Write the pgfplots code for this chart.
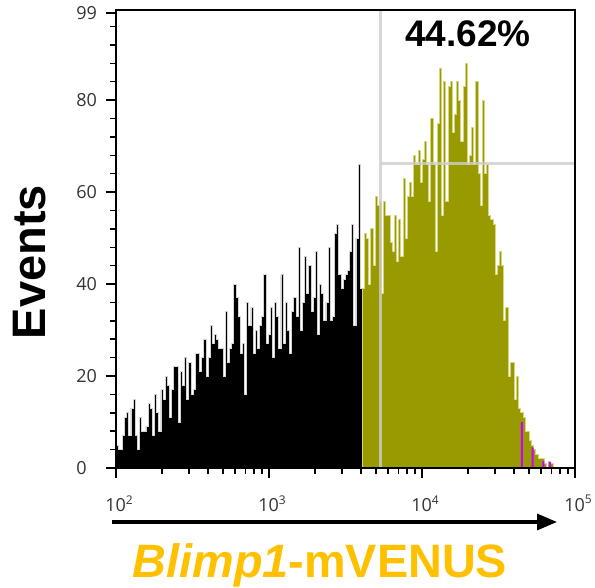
\documentclass[border=0pt]{standalone}
\usepackage{fontspec}
\setmainfont{Open Sans}
\newfontfamily\arial{Liberation Sans}
\usepackage{pgfplots}
\pgfplotsset{compat=1.18}
\usepackage{pgfplotstable}
\usetikzlibrary{arrows.meta}

\definecolor{olivebar}{RGB}{153,153,0}
\definecolor{oliveedge}{RGB}{214,214,130}
\definecolor{blackedge}{RGB}{210,210,210}
\definecolor{gatecol}{RGB}{205,205,205}
\definecolor{venus}{RGB}{255,192,0}
\definecolor{mag}{RGB}{204,0,255}

% counts per bin, bins of 0.014 decade starting at 10^2 (black, below the gate)
\pgfplotstableread[row sep=\\]{
n \\
5 \\ 4 \\ 4 \\ 7 \\ 11 \\ 12 \\ 7 \\ 13 \\ 15 \\ 7 \\ 4 \\ 11 \\ 8 \\ 8 \\ 9 \\ 14 \\ 13 \\ 7 \\ 16 \\ 12 \\
8 \\ 17 \\ 15 \\ 20 \\ 18 \\ 11 \\ 17 \\ 22 \\
22 \\ 10 \\ 21 \\ 18 \\ 24 \\ 15 \\ 23 \\ 16 \\ 17 \\ 25 \\ 25 \\ 21 \\ 24 \\ 28 \\ 20 \\ 24 \\ 31 \\ 27 \\ 29 \\ 28 \\
26 \\ 26 \\ 20 \\ 34 \\ 23 \\ 26 \\ 27 \\ 40 \\ 37 \\
33 \\ 25 \\ 27 \\ 16 \\ 36 \\ 31 \\ 35 \\ 25 \\ 30 \\ 26 \\ 31 \\ 33 \\ 42 \\ 27 \\ 29 \\ 35 \\ 24 \\ 36 \\ 33 \\ 26 \\
42 \\ 27 \\ 36 \\ 30 \\ 25 \\ 34 \\ 37 \\ 33 \\ 48 \\
30 \\ 36 \\ 46 \\ 38 \\ 44 \\ 34 \\ 37 \\ 47 \\ 29 \\ 40 \\ 38 \\ 32 \\ 36 \\ 48 \\ 32 \\ 33 \\ 51 \\ 53 \\ 42 \\ 39 \\
41 \\ 42 \\ 43 \\ 47 \\ 53 \\ 31 \\ 50 \\ 66 \\ 39 \\
39 \\
}\blackdata

% olive part, starting at 10^3.61
\pgfplotstableread[row sep=\\]{
n \\
39 \\ 51 \\ 50 \\ 40 \\ 52 \\ 44 \\ 59 \\ 57 \\ 58 \\ 38 \\ 58 \\ 55 \\ 55 \\ 49 \\ 47 \\ 55 \\ 45 \\ 54 \\ 46 \\ 63 \\
50 \\ 59 \\ 62 \\ 59 \\ 68 \\ 66 \\ 69 \\ 62 \\ 67 \\
71 \\ 66 \\ 58 \\ 76 \\ 66 \\ 47 \\ 75 \\ 87 \\ 55 \\ 84 \\ 58 \\ 83 \\ 84 \\ 73 \\ 77 \\ 84 \\ 80 \\ 71 \\ 83 \\ 88 \\
66 \\ 68 \\ 74 \\ 66 \\ 84 \\ 64 \\ 57 \\ 80 \\ 64 \\
66 \\ 55 \\ 54 \\ 53 \\ 42 \\ 44 \\ 47 \\ 44 \\ 32 \\ 35 \\ 20 \\ 23 \\ 23 \\ 15 \\ 20 \\ 13 \\ 12 \\ 11 \\ 8 \\ 8 \\
6 \\ 5 \\ 4 \\ 3 \\ 2 \\ 2 \\ 2 \\ 1 \\ 0 \\ 1.5 \\ 1 \\
1 \\
}\olivedata

\begin{document}
\begin{tikzpicture}
\path[use as bounding box] (-58pt,-60pt) rectangle (239.5pt,234pt);
\begin{axis}[
  scale only axis, width=229.5pt, height=229pt,
  xmin=2, xmax=5, ymin=0, ymax=99.6,
  axis on top,
  axis line style={line width=1pt},
  xtick={2,3,4,5},
  xticklabels={10\textsuperscript{2},10\textsuperscript{3},10\textsuperscript{4},10\textsuperscript{5}},
  minor xtick={2.301,2.477,2.602,2.699,2.778,2.845,2.903,2.954,
               3.301,3.477,3.602,3.699,3.778,3.845,3.903,3.954,
               4.301,4.477,4.602,4.699,4.778,4.845,4.903,4.954},
  ytick={0,20,40,60,80,99},
  yticklabels={0,20,40,60,80,99},
  minor ytick={4,8,12,16,24,28,32,36,44,48,52,56,64,68,72,76,84,88,92,96},
  tick align=outside, xtick pos=bottom, ytick pos=left,
  major tick length=5pt, minor tick length=3pt,
  every tick/.style={black, line width=0.75pt},
  tick label style={font=\fontsize{9}{10}\selectfont, text=black!80, inner sep=0pt},
  xticklabel style={anchor=north, xshift=1.75pt, yshift=-8.5pt},
  yticklabel style={anchor=west, xshift=-15pt},
]
\addplot[const plot, mark=none, fill=black, draw=blackedge, line width=0.4pt]
  table[x expr=2+0.014*\coordindex, y=n] {\blackdata} \closedcycle;
\addplot[const plot, mark=none, fill=olivebar, draw=oliveedge, line width=0.4pt]
  table[x expr=3.61+0.014*\coordindex, y=n] {\olivedata} \closedcycle;
% magenta events in the tail
\addplot[mark=none, fill=mag, draw=none] coordinates {(4.646,0)(4.646,10)(4.660,10)(4.660,0)} \closedcycle;
\addplot[mark=none, fill=mag, draw=none] coordinates {(4.716,0)(4.716,4.5)(4.730,4.5)(4.730,0)} \closedcycle;
\addplot[mark=none, fill=mag, draw=none] coordinates {(4.786,0)(4.786,1.5)(4.800,1.5)(4.800,0)} \closedcycle;
\addplot[mark=none, fill=mag, draw=none] coordinates {(4.828,0)(4.828,1.3)(4.842,1.3)(4.842,0)} \closedcycle;
% gate
\draw[gatecol, line width=1.5pt, opacity=0.8] (axis cs:3.729,0) -- (axis cs:3.729,99.6);
\draw[gatecol, line width=1.5pt, opacity=0.8] (axis cs:3.729,66.3) -- (axis cs:5,66.3);
\node[font=\arial\bfseries\fontsize{18.5}{20}\selectfont] at (axis cs:4.299,94.5) {44.62\%};
\end{axis}
\node[rotate=90, font=\arial\bfseries\fontsize{23.5}{26}\selectfont] at (-43pt,103pt) {Events};
\draw[line width=1.6pt, -{Triangle[length=10pt,width=8pt]}] (-2pt,-27pt) -- (220.5pt,-27pt);
\node[anchor=base, text=venus, font=\arial\bfseries\fontsize{23.4}{26}\selectfont] at (102pt,-55pt) {\textit{Blimp1}-mVENUS};
\end{tikzpicture}
\end{document}
